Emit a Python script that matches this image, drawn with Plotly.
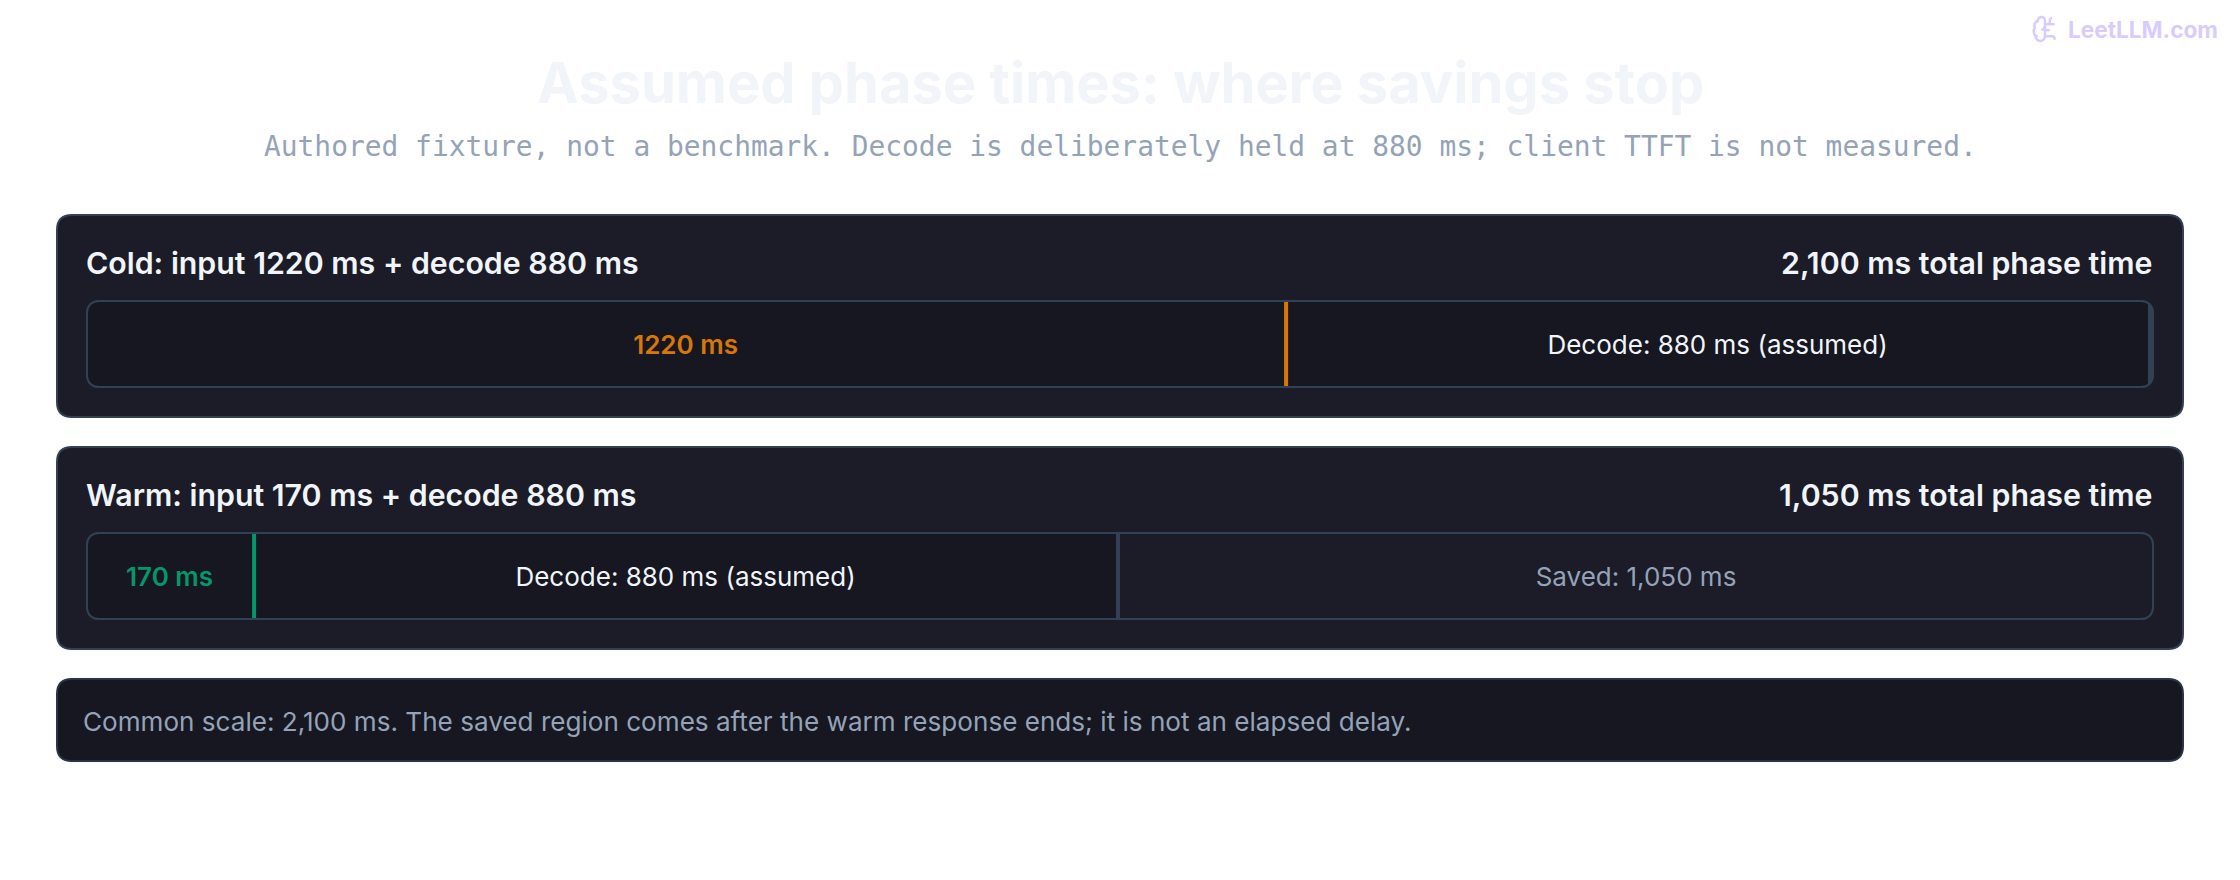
import plotly.graph_objects as go

# === data ===
scenarios = ["Warm", "Cold"]
input_ms = [170, 1220]
decode_ms = [880, 880]
saved_scenarios = ["Warm"]
saved_ms = [1050]
common_scale = 2100

input_labels = ["170 ms", "1220 ms"]
decode_labels = ["Decode: 880 ms (assumed)", "Decode: 880 ms (assumed)"]
saved_labels = ["Saved: 1,050 ms"]
heads_left = ["Warm: input 170 ms + decode 880 ms", "Cold: input 1220 ms + decode 880 ms"]
heads_right = ["1,050 ms total phase time", "2,100 ms total phase time"]

title = "Assumed phase times: where savings stop"
subtitle = "Authored fixture, not a benchmark. Decode is deliberately held at 880 ms; client TTFT is not measured."
note = "Common scale: 2,100 ms. The saved region comes after the warm response ends; it is not an elapsed delay."

# === style ===
W, H = 2240, 880
CARD = "#1b1c28"
TRACK = "#161720"
EDGE = "#334155"
LIGHT = "#f1f5f9"
MUTED = "#94a3b8"
ORANGE = "#d97706"
GREEN = "#059669"
SANS = "Inter"
MONO = "DejaVu Sans Mono"

# track inner box in pixels
TRACK_L, TRACK_R = 88, 2152
ROW_TOP, ROW_H = 228, 232
BAR_H = 84
PX_MS = common_scale / (TRACK_R - TRACK_L)
EDGE_MS = 4 * PX_MS


def px(x):
    return x / W


def py(y):
    return 1 - y / H


def round_rect(x0, y0, x1, y1, r):
    # Q corners, plotly paths can't take arcs
    return (
        f"M{px(x0 + r)},{py(y0)} L{px(x1 - r)},{py(y0)} Q{px(x1)},{py(y0)} {px(x1)},{py(y0 + r)} "
        f"L{px(x1)},{py(y1 - r)} Q{px(x1)},{py(y1)} {px(x1 - r)},{py(y1)} "
        f"L{px(x0 + r)},{py(y1)} Q{px(x0)},{py(y1)} {px(x0)},{py(y1 - r)} "
        f"L{px(x0)},{py(y0 + r)} Q{px(x0)},{py(y0)} {px(x0 + r)},{py(y0)} Z"
    )


def plain_rect(x0, y0, x1, y1):
    return (
        f"M{px(x0)},{py(y0)} L{px(x1)},{py(y0)} L{px(x1)},{py(y1)} L{px(x0)},{py(y1)} Z"
    )


fig = go.Figure()


def add_box(x0, y0, x1, y1, r, fill, edge=EDGE, width=2, layer="below"):
    fig.add_shape(
        type="path", path=round_rect(x0, y0, x1, y1, r), xref="paper", yref="paper",
        fillcolor=fill, line=dict(color=edge, width=width), layer=layer,
    )


# cards and note box
add_box(57, 215, 2183, 417, 15, CARD)
add_box(57, 447, 2183, 649, 15, CARD)
add_box(57, 679, 2183, 761, 15, TRACK, edge="#283345")

# tracks
add_box(87, 301, 2153, 387, 13, TRACK)
add_box(87, 533, 2153, 619, 13, TRACK)

# === bars ===
# segments stop at their right border, so the labels centre on the open part
fig.add_trace(go.Bar(
    y=scenarios, x=[v - EDGE_MS for v in input_ms], orientation="h", width=BAR_H / ROW_H,
    marker=dict(color=TRACK, line=dict(width=0)),
    text=input_labels, textposition="inside", insidetextanchor="middle", textangle=0,
    constraintext="none",
    insidetextfont=dict(family=SANS, size=26, weight=600, color=[GREEN, ORANGE]),
    hoverinfo="skip",
))
fig.add_trace(go.Bar(
    y=scenarios, x=[v - EDGE_MS for v in decode_ms], base=input_ms, orientation="h", width=BAR_H / ROW_H,
    marker=dict(color=TRACK, line=dict(width=0)),
    text=decode_labels, textposition="inside", insidetextanchor="middle", textangle=0,
    constraintext="none",
    insidetextfont=dict(family=SANS, size=26, color=LIGHT),
    hoverinfo="skip",
))
saved_base = [input_ms[scenarios.index(s)] + decode_ms[scenarios.index(s)] for s in saved_scenarios]
fig.add_trace(go.Bar(
    y=saved_scenarios, x=saved_ms, base=saved_base, orientation="h", width=BAR_H / ROW_H,
    marker=dict(color=CARD, line=dict(width=0)),
    text=saved_labels, textposition="inside", insidetextanchor="middle", textangle=0,
    constraintext="none",
    insidetextfont=dict(family=SANS, size=26, color=MUTED),
    hoverinfo="skip",
))

# right edge of each segment, input edge rounded up a pixel like the browser did
input_end = list(input_ms)
decode_end = [a + b for a, b in zip(input_ms, decode_ms)]
fig.add_trace(go.Bar(
    y=scenarios, x=[EDGE_MS] * 2, base=[v - EDGE_MS + PX_MS for v in input_end], orientation="h",
    width=BAR_H / ROW_H, marker=dict(color=[GREEN, ORANGE], line=dict(width=0)), hoverinfo="skip",
))
fig.add_trace(go.Bar(
    y=scenarios, x=[EDGE_MS] * 2, base=[v - EDGE_MS for v in decode_end], orientation="h",
    width=BAR_H / ROW_H, marker=dict(color=EDGE, line=dict(width=0)), hoverinfo="skip",
))

# track corners: mask what the bars paint past the rounding, then redraw the outline
for top, bottom in [(302, 386), (534, 618)]:
    fig.add_shape(
        type="path", xref="paper", yref="paper", layer="above", fillrule="evenodd",
        path=plain_rect(TRACK_L - 1, top - 1, TRACK_R + 1, bottom + 1) + " " + round_rect(87, top - 1, 2153, bottom + 1, 13),
        fillcolor=CARD, line=dict(width=0),
    )
    add_box(87, top - 1, 2153, bottom + 1, 13, "rgba(0,0,0,0)", layer="above")


# === brain icon, drawn in a 24 unit box ===
ICON_X, ICON_Y, ICON_U = 2030.6, 14.6, 1.2
icon_parts = [
    "M 12 5 C 12 3.3 10.7 2 9 2 C 7.3 2 5.9 3.4 6 5.1 C 3.5 5.7 2.5 8.7 3.5 10.9 C 2 12.8 2.4 16 4 17.5 C 4 20 6 22 8 22 C 10.2 22 12 20.2 12 18 Z",
    "M 9 13 C 10.5 12.5 12 11 12 9",
    "M 6 5.1 C 6 5.6 6.2 6.1 6.4 6.5",
    "M 3.5 10.9 C 3.7 10.7 3.9 10.6 4.1 10.5",
    "M 6 18 C 5.3 18 4.6 17.8 4 17.5",
    "M 12 13 L 16 13",
    "M 12 18 L 18 18 C 19.1 18 20 18.9 20 20 L 20 21",
    "M 12 8 L 20 8",
    "M 16 8 L 16 5 C 16 3.9 16.9 3 18 3",
]


def icon_path(part):
    out = []
    nums = []
    for tok in part.split():
        if tok.isalpha():
            out.append(tok)
            nums = []
        else:
            nums.append(float(tok))
            if len(nums) == 2:
                out.append(f"{px(ICON_X + nums[0] * ICON_U)},{py(ICON_Y + nums[1] * ICON_U)}")
                nums = []
    return " ".join(out)


for part in icon_parts:
    fig.add_shape(
        type="path", path=icon_path(part), xref="paper", yref="paper",
        line=dict(color="#d8ccff", width=2.4), layer="above",
    )


# === text ===
def add_text(x, y, text, size, color, anchor="left", weight=400, family=SANS):
    fig.add_annotation(
        x=px(x), y=py(y), xref="paper", yref="paper", text=text, showarrow=False,
        xanchor=anchor, yanchor="middle", borderpad=0,
        font=dict(family=family, size=size, color=color, weight=weight),
    )


add_text(2067, 30, "LeetLLM.com", 22.6, "#d8ccff", weight=700)
add_text(1120, 83, title, 56, LIGHT, anchor="center", weight=700)
add_text(1120, 147, subtitle, 27.9, MUTED, anchor="center", family=MONO)
add_text(85, 263, heads_left[1], 30.3, LIGHT, weight=600)
add_text(2153, 263, heads_right[1], 30.3, LIGHT, anchor="right", weight=600)
add_text(85, 495, heads_left[0], 30.3, LIGHT, weight=600)
add_text(2153, 495, heads_right[0], 30.3, LIGHT, anchor="right", weight=600)
add_text(81.5, 721, note, 26.1, MUTED)

fig.update_layout(
    width=W, height=H, margin=dict(l=0, r=0, t=0, b=0),
    paper_bgcolor="white", plot_bgcolor="rgba(0,0,0,0)",
    barmode="overlay", showlegend=False,
    xaxis=dict(
        visible=False, range=[0, common_scale], fixedrange=True,
        domain=[px(TRACK_L), px(TRACK_R)],
    ),
    yaxis=dict(
        visible=False, type="category", categoryorder="array", categoryarray=scenarios,
        range=[-0.5, 1.5], fixedrange=True,
        domain=[py(ROW_TOP + 2 * ROW_H), py(ROW_TOP)],
    ),
)

fig.write_html("out.html", post_script="document.body.style.margin='0';", config={"displayModeBar": False})
